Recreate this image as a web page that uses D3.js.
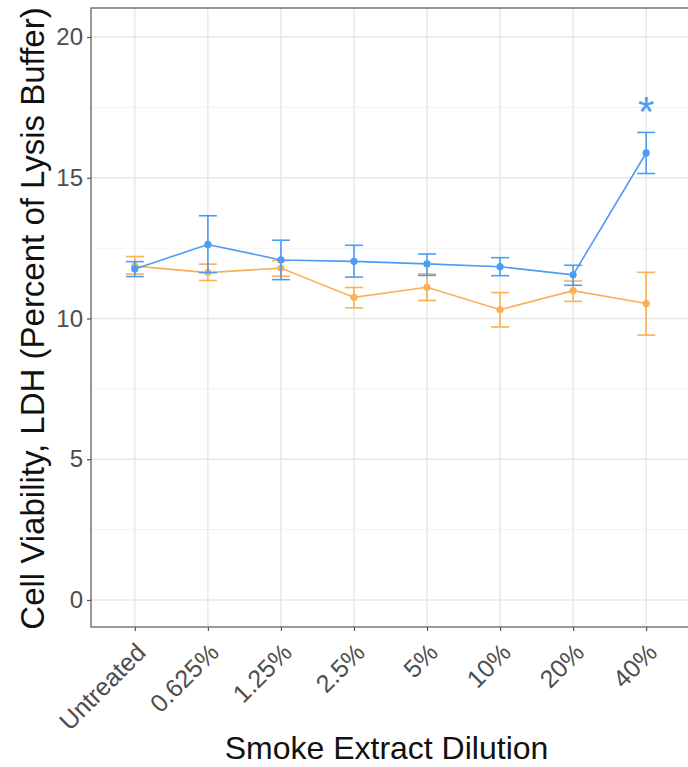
<!DOCTYPE html>
<html>
<head>
<meta charset="utf-8">
<script src="https://cdn.jsdelivr.net/npm/d3@7"></script>
<style>
  html, body { margin: 0; padding: 0; background: #fff; }
  svg { display: block; font-family: "Liberation Sans", Arial, Helvetica, sans-serif; }
</style>
</head>
<body>
<svg id="chart" width="688" height="767"></svg>
<script>
// Categories on the x axis (smoke extract dilution)
const dilutions = ["Untreated", "0.625%", "1.25%", "2.5%", "5%", "10%", "20%", "40%"];

// Blue series: mean and error limits
const blueMean = [11.76, 12.63, 12.08, 12.03, 11.94, 11.84, 11.55, 15.88];
const blueLow  = [11.49, 11.63, 11.38, 11.47, 11.53, 11.52, 11.18, 15.15];
const blueHigh = [12.02, 13.65, 12.78, 12.60, 12.29, 12.16, 11.89, 16.61];

// Orange series: mean and error limits
const orangeMean = [11.86, 11.63, 11.79, 10.75, 11.11, 10.31, 10.99, 10.53];
const orangeLow  = [11.58, 11.35, 11.50, 10.38, 10.64,  9.70, 10.61,  9.41];
const orangeHigh = [12.20, 11.93, 12.06, 11.10, 11.58, 10.92, 11.33, 11.64];

// Y axis ticks
const yTicks = [0, 5, 10, 15, 20];
const yMinorTicks = [2.5, 7.5, 12.5, 17.5];

// Significance marker
const sigCategory = "40%";
const sigValue = 17.6;

const svg = d3.select("#chart");
const panel = { left: 91, top: 8, right: 690, bottom: 627 };

const x = d3.scalePoint()
  .domain(dilutions)
  .range([panel.left, panel.right])
  .padding(0.6);

const y = d3.scaleLinear()
  .domain([-0.96, 21.03])
  .range([panel.bottom, panel.top]);

// panel background
svg.append("rect")
  .attr("x", panel.left).attr("y", panel.top)
  .attr("width", panel.right - panel.left).attr("height", panel.bottom - panel.top)
  .attr("fill", "#fff");

// grid lines
const grid = svg.append("g");
grid.selectAll("line.minor").data(yMinorTicks).join("line")
  .attr("x1", panel.left).attr("x2", panel.right)
  .attr("y1", d => y(d)).attr("y2", d => y(d))
  .attr("stroke", "#f2f2f2").attr("stroke-width", 1);
grid.selectAll("line.major").data(yTicks).join("line")
  .attr("x1", panel.left).attr("x2", panel.right)
  .attr("y1", d => y(d)).attr("y2", d => y(d))
  .attr("stroke", "#e6e6e6").attr("stroke-width", 1.4);
grid.selectAll("line.vert").data(dilutions).join("line")
  .attr("x1", d => x(d)).attr("x2", d => x(d))
  .attr("y1", panel.top).attr("y2", panel.bottom)
  .attr("stroke", "#e6e6e6").attr("stroke-width", 1.4);

// series
const series = [
  { color: "#f8b155", mean: orangeMean, low: orangeLow, high: orangeHigh },
  { color: "#4c9bf5", mean: blueMean, low: blueLow, high: blueHigh }
];

const line = d3.line().x(d => x(d.cat)).y(d => y(d.v));
const capHalf = 9;

series.forEach(s => {
  const rows = dilutions.map((c, i) => ({ cat: c, v: s.mean[i], lo: s.low[i], hi: s.high[i] }));
  const g = svg.append("g");
  g.append("path").datum(rows)
    .attr("d", line).attr("fill", "none")
    .attr("stroke", s.color).attr("stroke-width", 1.6);
  const eb = g.selectAll("g.eb").data(rows).join("g");
  eb.append("line")
    .attr("x1", d => x(d.cat)).attr("x2", d => x(d.cat))
    .attr("y1", d => y(d.lo)).attr("y2", d => y(d.hi))
    .attr("stroke", s.color).attr("stroke-width", 1.6);
  eb.append("line")
    .attr("x1", d => x(d.cat) - capHalf).attr("x2", d => x(d.cat) + capHalf)
    .attr("y1", d => y(d.lo)).attr("y2", d => y(d.lo))
    .attr("stroke", s.color).attr("stroke-width", 1.6);
  eb.append("line")
    .attr("x1", d => x(d.cat) - capHalf).attr("x2", d => x(d.cat) + capHalf)
    .attr("y1", d => y(d.hi)).attr("y2", d => y(d.hi))
    .attr("stroke", s.color).attr("stroke-width", 1.6);
  g.selectAll("circle").data(rows).join("circle")
    .attr("cx", d => x(d.cat)).attr("cy", d => y(d.v))
    .attr("r", 3.6).attr("fill", s.color);
});

// significance asterisk
svg.append("text")
  .attr("x", x(sigCategory)).attr("y", y(sigValue))
  .attr("dy", "0.5em")
  .attr("text-anchor", "middle")
  .attr("font-size", 42)
  .attr("fill", "#4c9bf5")
  .text("*");

// panel border
svg.append("rect")
  .attr("x", panel.left).attr("y", panel.top)
  .attr("width", panel.right - panel.left).attr("height", panel.bottom - panel.top)
  .attr("fill", "none").attr("stroke", "#555").attr("stroke-width", 1.2);

// y axis
const yAxis = svg.append("g")
  .attr("transform", `translate(${panel.left},0)`)
  .call(d3.axisLeft(y).tickValues(yTicks).tickSize(4).tickPadding(4));
yAxis.select(".domain").remove();
yAxis.selectAll(".tick line").attr("stroke", "#555").attr("stroke-width", 1.2);
yAxis.selectAll(".tick text")
  .attr("font-size", 24).attr("fill", "#4d4d4d")
  .attr("font-family", "Liberation Sans, Arial, sans-serif");

// x axis
const xAxis = svg.append("g")
  .attr("transform", `translate(0,${panel.bottom})`)
  .call(d3.axisBottom(x).tickSize(4).tickPadding(4));
xAxis.select(".domain").remove();
xAxis.selectAll(".tick line").attr("stroke", "#555").attr("stroke-width", 1.2);
xAxis.selectAll(".tick text")
  .attr("font-size", 25).attr("fill", "#4d4d4d")
  .attr("font-family", "Liberation Sans, Arial, sans-serif")
  .attr("text-anchor", "end")
  .attr("dy", null).attr("y", null)
  .attr("transform", "translate(12,27) rotate(-45)");

// axis titles
svg.append("text")
  .attr("x", (panel.left + 688) / 2 - 3).attr("y", 759)
  .attr("text-anchor", "middle")
  .attr("font-size", 32).attr("fill", "#111")
  .text("Smoke Extract Dilution");

svg.append("text")
  .attr("transform", `translate(44,${(panel.top + panel.bottom) / 2 + 1}) rotate(-90)`)
  .attr("text-anchor", "middle")
  .attr("font-size", 33).attr("fill", "#111")
  .text("Cell Viability, LDH (Percent of Lysis Buffer)");
</script>
</body>
</html>
